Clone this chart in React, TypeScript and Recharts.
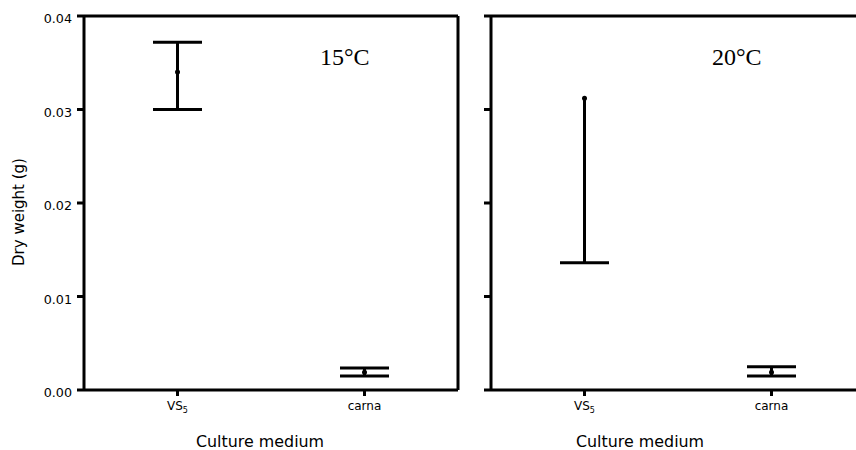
import React from 'react';
import { ComposedChart, Bar, Line, XAxis, YAxis } from 'recharts';

// Culture media on the category axis
const mediums = ['VS5', 'carna'];
const yTicks = [0, 0.01, 0.02, 0.03, 0.04];

// Dry weight (g) at 15°C: mean and lower / upper error limits
const mean15C = [0.034, 0.0019];
const low15C = [0.03, 0.0015];
const high15C = [0.0372, 0.00235];

// Dry weight (g) at 20°C
const mean20C = [0.0312, 0.0019];
const low20C = [0.0136, 0.0015];
const high20C = [0.0312, 0.0025];

const SANS = 'DejaVu Sans';
const SERIF = 'Liberation Serif';
const INK = '#000';

type Row = { medium: string; mean: number; low: number; high: number; range: [number, number] };

const buildRows = (mean: number[], low: number[], high: number[]): Row[] =>
  mediums.map((m, i) => ({
    medium: m,
    mean: mean[i],
    low: low[i],
    high: high[i],
    range: [low[i], high[i]],
  }));

const rows15 = buildRows(mean15C, low15C, high15C);
const rows20 = buildRows(mean20C, low20C, high20C);

// Error bar drawn from the ranged bar's geometry: whisker plus caps
const ErrorShape = (props: any) => {
  const { x, y, width, height, payload } = props;
  if (x == null || y == null) return null;
  const cx = x + width / 2;
  const top = Math.min(y, y + height);
  const bottom = Math.max(y, y + height);
  return (
    <g>
      <line x1={cx} x2={cx} y1={top} y2={bottom} stroke={INK} strokeWidth={3} />
      {payload.high > payload.mean && (
        <line x1={x} x2={x + width} y1={top} y2={top} stroke={INK} strokeWidth={3} />
      )}
      {payload.low < payload.mean && (
        <line x1={x} x2={x + width} y1={bottom} y2={bottom} stroke={INK} strokeWidth={3} />
      )}
    </g>
  );
};

const YTick = (props: any) => {
  const { x, y, payload } = props;
  return (
    <text x={x} y={y + 7} textAnchor="end" fontFamily={SANS} fontSize={12.7} fill={INK}>
      {Number(payload.value).toFixed(2)}
    </text>
  );
};

// Tick marks only, no text (shared axis on the second panel)
const BlankTick = () => <g />;

const XTick = (props: any) => {
  const { x, y, payload } = props;
  const v: string = payload.value;
  if (v === 'VS5') {
    return (
      <text x={x} y={y + 12} textAnchor="middle" fontFamily={SANS} fontSize={12} fill={INK}>
        <tspan>VS</tspan>
        <tspan dy={3} fontSize={8}>5</tspan>
      </text>
    );
  }
  return (
    <text x={x} y={y + 12} textAnchor="middle" fontFamily={SANS} fontSize={12} fill={INK}>
      {v}
    </text>
  );
};

const axisLine = { stroke: INK, strokeWidth: 3 };

const Panel = ({ data, showYLabels }: { data: Row[]; showYLabels: boolean }) => (
  <ComposedChart
    width={showYLabels ? 460 : 386}
    height={450}
    data={data}
    margin={{ top: 15, right: 1, bottom: 30, left: showYLabels ? 24 : 0 }}
  >
    <XAxis
      dataKey="medium"
      type="category"
      height={30}
      axisLine={axisLine}
      tickLine={axisLine}
      tickSize={6}
      tick={<XTick />}
      interval={0}
    />
    <XAxis
      xAxisId="top"
      dataKey="medium"
      orientation="top"
      height={1}
      axisLine={axisLine}
      tickLine={false}
      tick={false}
    />
    <YAxis
      type="number"
      domain={[0, 0.04]}
      ticks={yTicks}
      width={showYLabels ? 60 : 10}
      axisLine={axisLine}
      tickLine={axisLine}
      tickSize={7}
      tickMargin={5}
      tick={showYLabels ? <YTick /> : <BlankTick />}
      allowDataOverflow
    />
    <YAxis
      yAxisId="right"
      orientation="right"
      type="number"
      domain={[0, 0.04]}
      width={1}
      axisLine={axisLine}
      tickLine={false}
      tick={false}
    />
    <Bar dataKey="range" barSize={49} shape={(p: any) => <ErrorShape {...p} />} isAnimationActive={false} />
    <Line
      dataKey="mean"
      stroke="none"
      dot={{ r: 2.5, fill: INK, stroke: 'none' }}
      activeDot={false}
      isAnimationActive={false}
    />
  </ComposedChart>
);

export default function App() {
  return (
    <div
      style={{
        position: 'absolute',
        left: 0,
        top: 0,
        width: 856,
        height: 450,
        overflow: 'hidden',
        background: '#fff',
      }}
    >
      <div style={{ position: 'absolute', left: 0, top: 0 }}>
        <Panel data={rows15} showYLabels />
      </div>
      <div style={{ position: 'absolute', left: 481, top: 0 }}>
        <Panel data={rows20} showYLabels={false} />
      </div>
      <svg
        width={856}
        height={450}
        style={{ position: 'absolute', left: 0, top: 0, pointerEvents: 'none' }}
      >
        <text
          transform="translate(24, 212) rotate(-90)"
          textAnchor="middle"
          fontFamily={SANS}
          fontSize={15}
          fill={INK}
        >
          Dry weight (g)
        </text>
        <text x={260} y={447} textAnchor="middle" fontFamily={SANS} fontSize={15.9} fill={INK}>
          Culture medium
        </text>
        <text x={640} y={447} textAnchor="middle" fontFamily={SANS} fontSize={15.9} fill={INK}>
          Culture medium
        </text>
        <text x={320} y={65} fontFamily={SERIF} fontSize={24} fill={INK}>
          15°C
        </text>
        <text x={712} y={65} fontFamily={SERIF} fontSize={24} fill={INK}>
          20°C
        </text>
      </svg>
    </div>
  );
}
